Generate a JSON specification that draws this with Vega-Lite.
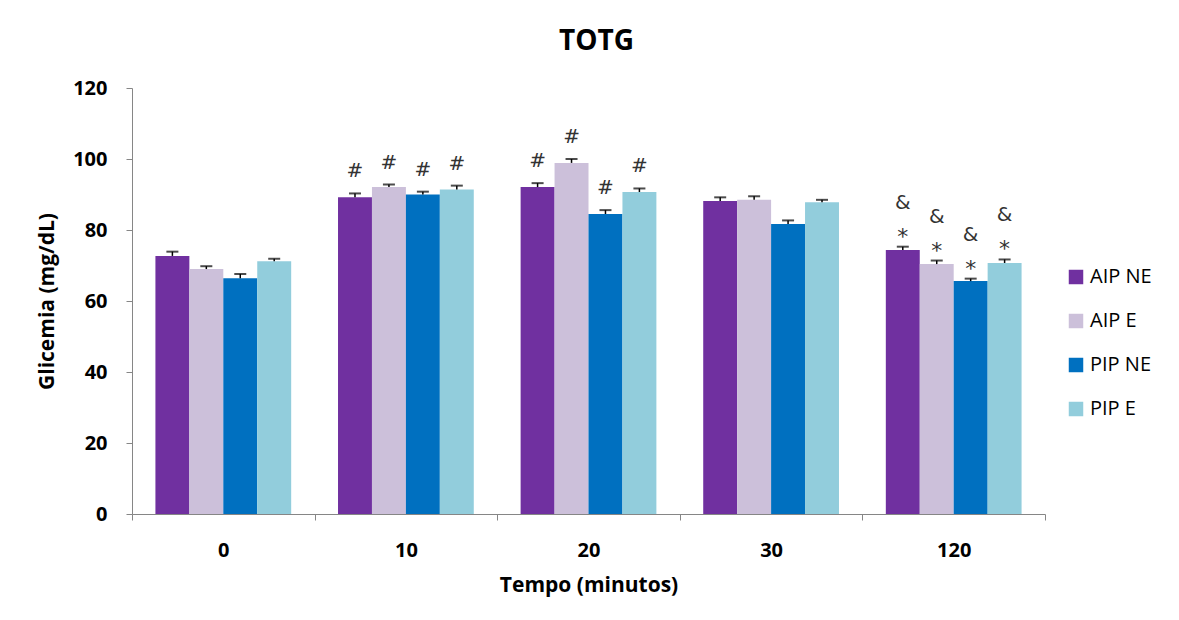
{
  "$schema": "https://vega.github.io/schema/vega-lite/v6.json",
  "autosize": {"type": "none"},
  "width": 913,
  "height": 426,
  "padding": {"left": 132, "top": 88, "right": 134, "bottom": 106},
  "background": "white",
  "title": {"text": "TOTG", "fontSize": 28, "font": "Open Sans", "fontWeight": "bold", "color": "#000000", "offset": 22, "dx": 8},
  "data": {"values": [
    {"t": "0", "group": "AIP NE", "value": 72.7, "err": 1.2, "hash": "", "star": "", "amp": ""},
    {"t": "0", "group": "AIP E", "value": 69.0, "err": 0.8, "hash": "", "star": "", "amp": ""},
    {"t": "0", "group": "PIP NE", "value": 66.4, "err": 1.2, "hash": "", "star": "", "amp": ""},
    {"t": "0", "group": "PIP E", "value": 71.2, "err": 0.7, "hash": "", "star": "", "amp": ""},
    {"t": "10", "group": "AIP NE", "value": 89.2, "err": 1.1, "hash": "#", "star": "", "amp": ""},
    {"t": "10", "group": "AIP E", "value": 92.1, "err": 0.7, "hash": "#", "star": "", "amp": ""},
    {"t": "10", "group": "PIP NE", "value": 90.0, "err": 0.8, "hash": "#", "star": "", "amp": ""},
    {"t": "10", "group": "PIP E", "value": 91.4, "err": 1.1, "hash": "#", "star": "", "amp": ""},
    {"t": "20", "group": "AIP NE", "value": 92.1, "err": 1.1, "hash": "#", "star": "", "amp": ""},
    {"t": "20", "group": "AIP E", "value": 98.9, "err": 1.1, "hash": "#", "star": "", "amp": ""},
    {"t": "20", "group": "PIP NE", "value": 84.5, "err": 1.1, "hash": "#", "star": "", "amp": ""},
    {"t": "20", "group": "PIP E", "value": 90.7, "err": 1.0, "hash": "#", "star": "", "amp": ""},
    {"t": "30", "group": "AIP NE", "value": 88.2, "err": 1.0, "hash": "", "star": "", "amp": ""},
    {"t": "30", "group": "AIP E", "value": 88.5, "err": 1.0, "hash": "", "star": "", "amp": ""},
    {"t": "30", "group": "PIP NE", "value": 81.7, "err": 1.0, "hash": "", "star": "", "amp": ""},
    {"t": "30", "group": "PIP E", "value": 87.8, "err": 0.7, "hash": "", "star": "", "amp": ""},
    {"t": "120", "group": "AIP NE", "value": 74.4, "err": 0.9, "hash": "", "star": "*", "amp": "&"},
    {"t": "120", "group": "AIP E", "value": 70.4, "err": 1.0, "hash": "", "star": "*", "amp": "&"},
    {"t": "120", "group": "PIP NE", "value": 65.6, "err": 0.7, "hash": "", "star": "*", "amp": "&"},
    {"t": "120", "group": "PIP E", "value": 70.7, "err": 1.0, "hash": "", "star": "*", "amp": "&"}
  ]},
  "transform": [{"calculate": "datum.value + datum.err", "as": "hi"}],
  "encoding": {
    "x": {
      "field": "t", "type": "nominal", "sort": ["0", "10", "20", "30", "120"],
      "scale": {"paddingInner": 0, "paddingOuter": 0},
      "axis": {
        "title": "Tempo (minutos)", "labelAngle": 0, "tickBand": "extent",
        "labelFont": "Open Sans", "labelFontSize": 20, "labelFontWeight": "bold", "labelColor": "#000000",
        "labelPadding": 20,
        "titleFont": "Open Sans", "titleFontSize": 21, "titleFontWeight": "bold", "titleColor": "#000000",
        "titlePadding": 14,
        "domainColor": "#868686", "tickColor": "#868686", "tickSize": 6
      }
    },
    "xOffset": {
      "field": "group", "type": "nominal", "sort": ["AIP NE", "AIP E", "PIP NE", "PIP E"],
      "scale": {"paddingInner": 0, "paddingOuter": 0.69}
    }
  },
  "layer": [
    {
      "mark": {"type": "bar"},
      "encoding": {
        "y": {
          "field": "value", "type": "quantitative",
          "scale": {"domain": [0, 120], "nice": false},
          "axis": {
            "title": "Glicemia (mg/dL)", "values": [0, 20, 40, 60, 80, 100, 120], "grid": false,
            "labelFont": "Open Sans", "labelFontSize": 20, "labelFontWeight": "bold", "labelColor": "#000000",
            "labelPadding": 19,
            "titleFont": "Open Sans", "titleFontSize": 21, "titleFontWeight": "bold", "titleColor": "#000000",
            "titlePadding": 15,
            "domainColor": "#868686", "tickColor": "#868686", "tickSize": 6
          }
        },
        "color": {
          "field": "group", "type": "nominal", "sort": ["AIP NE", "AIP E", "PIP NE", "PIP E"],
          "scale": {"domain": ["AIP NE", "AIP E", "PIP NE", "PIP E"], "range": ["#7030A0", "#CCC0DA", "#0070C0", "#92CDDC"]},
          "legend": {
            "title": null, "orient": "none", "legendX": 934, "legendY": 179,
            "symbolType": "square", "symbolSize": 210, "symbolStrokeWidth": 0,
            "labelFont": "Open Sans", "labelFontSize": 20, "labelColor": "#000000",
            "rowPadding": 24, "labelOffset": 4
          }
        }
      }
    },
    {
      "mark": {"type": "rule", "color": "#000000", "strokeWidth": 1.5},
      "encoding": {
        "y": {"field": "value", "type": "quantitative"},
        "y2": {"field": "hi"}
      }
    },
    {
      "mark": {"type": "tick", "color": "#000000", "thickness": 2, "size": 12, "orient": "horizontal"},
      "encoding": {
        "y": {"field": "hi", "type": "quantitative"}
      }
    },
    {
      "mark": {"type": "text", "font": "DejaVu Sans", "fontSize": 20, "dy": -22, "color": "#333333"},
      "encoding": {
        "y": {"field": "hi", "type": "quantitative"},
        "text": {"field": "hash"}
      }
    },
    {
      "mark": {"type": "text", "font": "DejaVu Sans", "fontSize": 22, "dy": -10, "color": "#333333"},
      "encoding": {
        "y": {"field": "hi", "type": "quantitative"},
        "text": {"field": "star"}
      }
    },
    {
      "mark": {"type": "text", "font": "DejaVu Sans", "fontSize": 20, "dy": -44, "color": "#333333"},
      "encoding": {
        "y": {"field": "hi", "type": "quantitative"},
        "text": {"field": "amp"}
      }
    }
  ],
  "config": {"view": {"stroke": null}}
}
